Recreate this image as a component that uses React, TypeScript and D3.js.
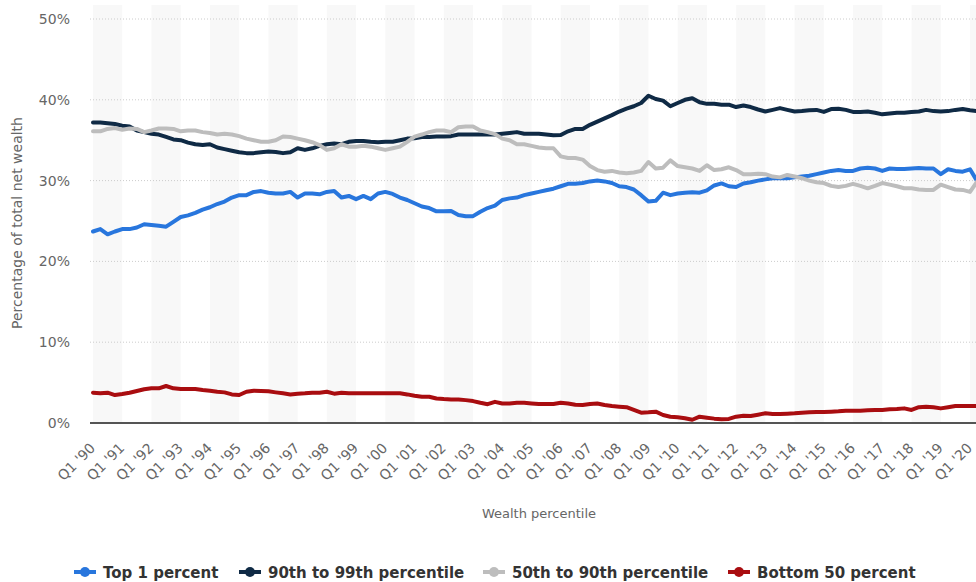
import * as d3 from "d3";

const WIDTH = 976;
const HEIGHT = 582;
const PLOT = { LEFT: 90, TOP: 19, BOTTOM: 423, RIGHT: 976 };

// one label per year, every 4th quarter
const tickLabels = [
  "Q1 '90", "Q1 '91", "Q1 '92", "Q1 '93", "Q1 '94", "Q1 '95", "Q1 '96", "Q1 '97",
  "Q1 '98", "Q1 '99", "Q1 '00", "Q1 '01", "Q1 '02", "Q1 '03", "Q1 '04", "Q1 '05",
  "Q1 '06", "Q1 '07", "Q1 '08", "Q1 '09", "Q1 '10", "Q1 '11", "Q1 '12", "Q1 '13",
  "Q1 '14", "Q1 '15", "Q1 '16", "Q1 '17", "Q1 '18", "Q1 '19", "Q1 '20",
];
const yTicks = [0, 10, 20, 30, 40, 50];

// quarterly shares, Q1 '90 onward
const top1 = [
  23.7, 24.0, 23.35, 23.7, 24.0, 24.0, 24.2, 24.6, 24.5, 24.4, 24.3, 24.9, 25.5, 25.7, 26.0, 26.4,
  26.7, 27.1, 27.4, 27.9, 28.2, 28.2, 28.6, 28.7, 28.5, 28.4, 28.4, 28.6, 27.9, 28.4, 28.4, 28.3,
  28.6, 28.7, 27.9, 28.1, 27.7, 28.1, 27.7, 28.4, 28.6, 28.35, 27.9, 27.6, 27.2, 26.8, 26.6, 26.2,
  26.2, 26.25, 25.75, 25.6, 25.6, 26.15, 26.6, 26.9, 27.6, 27.8, 27.9, 28.2, 28.4, 28.6, 28.8, 29.0,
  29.3, 29.6, 29.6, 29.7, 29.9, 30.0, 29.9, 29.7, 29.3, 29.2, 28.9, 28.2, 27.4, 27.5, 28.5, 28.2,
  28.4, 28.5, 28.55, 28.5, 28.8, 29.4, 29.65, 29.3, 29.2, 29.65, 29.8, 30.0, 30.15, 30.3, 30.3, 30.3,
  30.4, 30.5, 30.6, 30.8, 31.0, 31.2, 31.3, 31.2, 31.2, 31.5, 31.6, 31.5, 31.2, 31.5, 31.45, 31.45,
  31.5, 31.55, 31.5, 31.5, 30.8, 31.4, 31.2, 31.1, 31.4, 29.9,
];
const p90to99 = [
  37.2, 37.2, 37.1, 37.0, 36.8, 36.7, 36.2, 36.0, 35.8, 35.7, 35.4, 35.1, 35.0, 34.7, 34.5, 34.4,
  34.5, 34.1, 33.9, 33.7, 33.5, 33.4, 33.4, 33.5, 33.6, 33.55, 33.4, 33.5, 34.0, 33.8, 34.0, 34.3,
  34.5, 34.6, 34.5, 34.8, 34.9, 34.9, 34.8, 34.75, 34.8, 34.8, 35.0, 35.2, 35.25, 35.4, 35.4, 35.45,
  35.45, 35.5, 35.7, 35.7, 35.7, 35.7, 35.7, 35.7, 35.8, 35.9, 36.0, 35.8, 35.8, 35.8, 35.7, 35.6,
  35.65, 36.1, 36.4, 36.4, 36.9, 37.3, 37.7, 38.1, 38.55, 38.9, 39.2, 39.6, 40.5, 40.1, 39.9, 39.2,
  39.6, 40.0, 40.2, 39.7, 39.5, 39.5, 39.4, 39.4, 39.1, 39.3, 39.1, 38.8, 38.55, 38.75, 38.97, 38.75,
  38.55, 38.6, 38.7, 38.75, 38.5, 38.85, 38.9, 38.75, 38.5, 38.5, 38.55, 38.4, 38.2, 38.3, 38.4, 38.4,
  38.5, 38.55, 38.75, 38.6, 38.55, 38.6, 38.75, 38.85, 38.7, 38.6,
];
const p50to90 = [
  36.1, 36.1, 36.4, 36.5, 36.3, 36.45, 36.4, 36.0, 36.2, 36.45, 36.45, 36.4, 36.1, 36.2, 36.2, 36.0,
  35.9, 35.7, 35.8, 35.7, 35.5, 35.2, 35.0, 34.8, 34.8, 35.0, 35.45, 35.4, 35.2, 35.0, 34.75, 34.4,
  33.8, 34.0, 34.5, 34.2, 34.2, 34.3, 34.2, 34.0, 33.8, 34.0, 34.2, 34.8, 35.45, 35.7, 36.0, 36.2,
  36.2, 36.0, 36.6, 36.7, 36.7, 36.2, 36.0, 35.75, 35.2, 35.0, 34.5, 34.5, 34.3, 34.1, 34.0, 34.0,
  33.0, 32.8, 32.8, 32.6, 31.8, 31.3, 31.1, 31.2, 31.0, 30.9, 31.0, 31.2, 32.3, 31.5, 31.6, 32.5,
  31.8, 31.65, 31.5, 31.2, 31.9, 31.3, 31.4, 31.65, 31.3, 30.8, 30.8, 30.85, 30.8, 30.5, 30.4, 30.7,
  30.5, 30.3, 30.0, 29.8, 29.7, 29.35, 29.2, 29.35, 29.6, 29.35, 29.05, 29.35, 29.7, 29.5, 29.3, 29.05,
  29.05, 28.9, 28.85, 28.85, 29.5, 29.2, 28.9, 28.85, 28.6, 29.9,
];
const bottom50 = [
  3.75, 3.67, 3.75, 3.46, 3.58, 3.75, 3.96, 4.17, 4.29, 4.29, 4.58, 4.29, 4.2, 4.2, 4.2, 4.08,
  4.0, 3.87, 3.79, 3.54, 3.46, 3.87, 4.0, 3.96, 3.92, 3.79, 3.67, 3.54, 3.63, 3.67, 3.75, 3.75,
  3.87, 3.63, 3.75, 3.67, 3.67, 3.67, 3.67, 3.67, 3.67, 3.67, 3.67, 3.54, 3.38, 3.25, 3.25, 3.04,
  2.96, 2.92, 2.92, 2.83, 2.71, 2.5, 2.33, 2.62, 2.42, 2.42, 2.5, 2.5, 2.42, 2.35, 2.35, 2.35,
  2.5, 2.42, 2.27, 2.23, 2.35, 2.42, 2.23, 2.1, 2.02, 1.95, 1.61, 1.28, 1.32, 1.4, 0.99, 0.78,
  0.7, 0.58, 0.4, 0.78, 0.66, 0.54, 0.45, 0.5, 0.78, 0.91, 0.87, 1.03, 1.2, 1.12, 1.12, 1.16,
  1.2, 1.28, 1.32, 1.36, 1.36, 1.4, 1.45, 1.53, 1.53, 1.53, 1.57, 1.61, 1.61, 1.69, 1.73, 1.81,
  1.61, 1.95, 2.02, 1.95, 1.81, 1.95, 2.1, 2.1, 2.1, 2.1,
];

const seriesNames = ["Top 1 percent", "90th to 99th percentile", "50th to 90th percentile", "Bottom 50 percent"];
const seriesColors = ["#2876dd", "#0f2a45", "#bdbdbd", "#a90d10"];
const seriesValues = [top1, p90to99, p50to90, bottom50];

const FONT = "'DejaVu Sans', Verdana, sans-serif";

export default function App() {
  const x = d3.scaleLinear().domain([0, 120]).range([93, 970]);
  const y = d3.scaleLinear().domain([0, 50]).range([PLOT.BOTTOM, PLOT.TOP]);

  const line = d3
    .line<number>()
    .x((_, i) => x(i))
    .y((d) => y(d));

  const legendX = [85, 250, 494, 739];

  return (
    <>
      <style>{"body{margin:0}"}</style>
      <svg width={WIDTH} height={HEIGHT} style={{ display: "block", overflow: "hidden" }} fontFamily={FONT}>
        <rect width={WIDTH} height={HEIGHT} fill="#fff" />
        {/* alternating year bands */}
        {tickLabels.map((_, i) =>
          i % 2 === 0 ? (
            <rect
              key={"b" + i}
              x={x(i * 4)}
              y={5}
              width={x(i * 4 + 4) - x(i * 4)}
              height={PLOT.BOTTOM - 5}
              fill="#f8f8f8"
            />
          ) : null
        )}
        {/* grid */}
        {yTicks.slice(1).map((t) => (
          <line
            key={"g" + t}
            x1={PLOT.LEFT}
            x2={PLOT.RIGHT}
            y1={y(t)}
            y2={y(t)}
            stroke="#cccccc"
            strokeWidth={1}
            strokeDasharray="1 2"
          />
        ))}
        {yTicks.map((t) => (
          <text key={"yl" + t} x={70} y={y(t)} dy="0.36em" textAnchor="end" fontSize={14} fill="#666">
            {t}%
          </text>
        ))}
        <text
          transform={`translate(22, ${(PLOT.TOP + PLOT.BOTTOM) / 2 + 2}) rotate(-90)`}
          textAnchor="middle"
          fontSize={14}
          fill="#666"
        >
          Percentage of total net wealth
        </text>
        {/* series */}
        {seriesValues.map((vals, s) => (
          <path
            key={"s" + s}
            d={line(vals) || ""}
            fill="none"
            stroke={seriesColors[s]}
            strokeWidth={4}
            strokeLinejoin="round"
            strokeLinecap="round"
          />
        ))}
        <line x1={PLOT.LEFT} x2={PLOT.RIGHT} y1={y(0)} y2={y(0)} stroke="#555" strokeWidth={2} />
        {/* x tick labels */}
        {tickLabels.map((lab, i) => (
          <text
            key={"xl" + i}
            transform={`translate(${x(i * 4) + 3}, 449) rotate(-45)`}
            textAnchor="end"
            fontSize={14}
            fill="#666"
          >
            {lab}
          </text>
        ))}
        <text x={539} y={518} textAnchor="middle" fontSize={13} fill="#666">
          Wealth percentile
        </text>
        {/* legend */}
        {seriesNames.map((name, s) => (
          <g key={"lg" + s} transform={`translate(${legendX[s]}, 572)`}>
            <line x1={-11} x2={11} y1={0} y2={0} stroke={seriesColors[s]} strokeWidth={4} />
            <circle r={5} fill={seriesColors[s]} />
            <text x={18} y={6} fontSize={15} fontWeight="bold" fill="#333">
              {name}
            </text>
          </g>
        ))}
      </svg>
    </>
  );
}
